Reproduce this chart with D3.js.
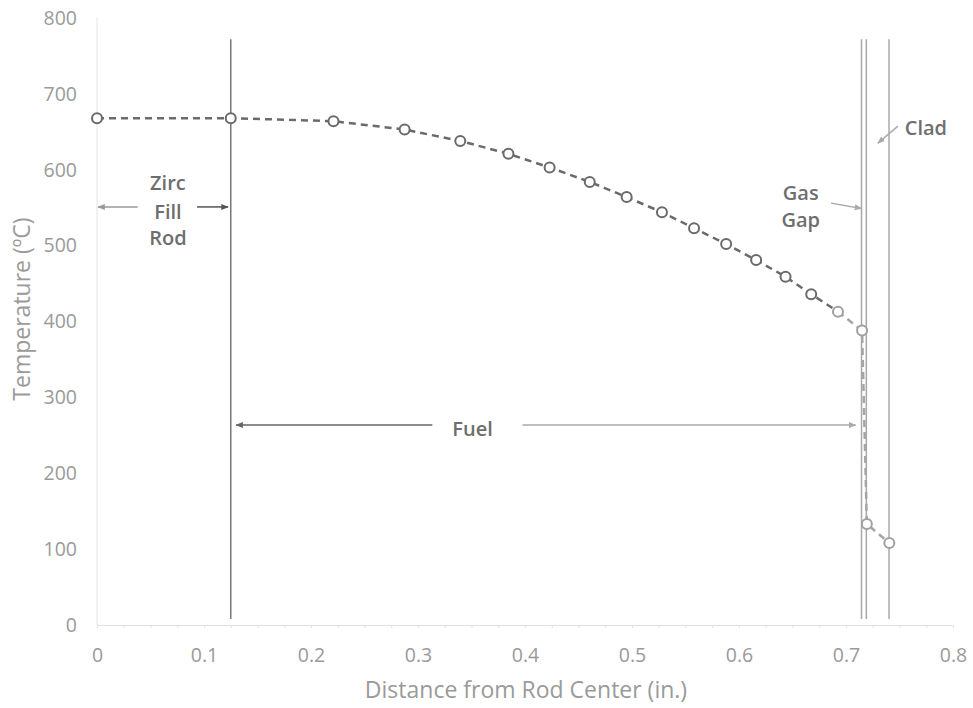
<!DOCTYPE html>
<html>
<head>
<meta charset="utf-8" />
<title>Fuel rod temperature profile</title>
<style>
  body { margin: 0; background: #fff; }
  text { font-family: "Open Sans", "DejaVu Sans", sans-serif; }
</style>
</head>
<body>
<svg id="svg" width="973" height="708"></svg>
<script src="https://cdn.jsdelivr.net/npm/d3@7/dist/d3.min.js"></script>
<script>
// distance from rod center (in.) and temperature (C)
var radius = [0, 0.125, 0.221, 0.2875, 0.3395, 0.3845, 0.423, 0.4605, 0.495, 0.528,
              0.558, 0.588, 0.616, 0.6435, 0.6675, 0.6925, 0.715, 0.7195, 0.7405];
var temp   = [668, 668, 664, 653, 638, 621, 603, 584, 564, 544,
              523, 502, 481, 459, 436, 413, 388, 133, 108];
var lightFrom = 15; // last points look lighter in the scan

var xTicks = [0, 0.1, 0.2, 0.3, 0.4, 0.5, 0.6, 0.7, 0.8];
var yTicks = [0, 100, 200, 300, 400, 500, 600, 700, 800];

// region boundaries: fill rod edge, gas gap (two lines), clad outer
var boundaries = [0.125, 0.7145, 0.719, 0.7402];
var boundaryDark = [true, false, false, false];

// annotation labels in data units
var labels = [
  { t: "Zirc", x: 0.0663, y: 582 },
  { t: "Fill", x: 0.0663, y: 544 },
  { t: "Rod",  x: 0.0663, y: 510 },
  { t: "Fuel", x: 0.351,  y: 258 },
  { t: "Gas",  x: 0.6577, y: 569 },
  { t: "Gap",  x: 0.6577, y: 534 },
  { t: "Clad", x: 0.7747, y: 655 }
];
// arrows: from -> to (head at 'to')
var arrows = [
  { x1: 0.038,  y1: 551,   x2: 0.001,  y2: 551,   c: "#999" },
  { x1: 0.0935, y1: 551,   x2: 0.1225, y2: 551,   c: "#555" },
  { x1: 0.3134, y1: 263.5, x2: 0.130,  y2: 263.5, c: "#666" },
  { x1: 0.3976, y1: 263.5, x2: 0.709,  y2: 263.5, c: "#aaa" },
  { x1: 0.686,  y1: 556,   x2: 0.7145, y2: 549,   c: "#aaa" },
  { x1: 0.7485, y1: 657.5, x2: 0.7298, y2: 635,   c: "#aaa" }
];

var svg = d3.select("#svg");
var x = d3.scaleLinear().domain([0, 0.8]).range([97, 953]);
var y = d3.scaleLinear().domain([0, 800]).range([625, 18]);

var defs = svg.append("defs");
arrows.forEach(function(a, i) {
  defs.append("marker")
    .attr("id", "ah" + i)
    .attr("viewBox", "0 0 10 10")
    .attr("refX", 9).attr("refY", 5)
    .attr("markerWidth", 5).attr("markerHeight", 5)
    .attr("orient", "auto")
    .append("path").attr("d", "M0,1L10,5L0,9Z").attr("fill", a.c);
});

// faint axis lines
svg.append("line")
  .attr("x1", x(0)).attr("x2", x(0)).attr("y1", y(0)).attr("y2", y(800))
  .attr("stroke", "#e4e4e4").attr("stroke-width", 1);
var xAxis = svg.append("g").attr("transform", "translate(0," + y(0) + ")")
  .call(d3.axisBottom(x).tickValues(d3.range(0, 33).map(function(i) { return i * 0.025; }))
    .tickSize(3).tickFormat(""));
xAxis.select(".domain").attr("stroke", "#e2e2e2");
xAxis.selectAll(".tick line").attr("stroke", "#e2e2e2");

// tick labels
var yAx = svg.append("g").attr("transform", "translate(" + x(0) + ",0)")
  .call(d3.axisLeft(y).tickValues(yTicks).tickSize(0).tickPadding(20));
yAx.select(".domain").remove();
yAx.selectAll("text").attr("fill", "#9a9a9a").style("font-size", "19.5px");

var xAx = svg.append("g").attr("transform", "translate(0," + y(0) + ")")
  .call(d3.axisBottom(x).tickValues(xTicks).tickSize(0).tickPadding(23)
    .tickFormat(function(d) { return d === 0 ? "0" : d3.format(".1f")(d); }));
xAx.select(".domain").remove();
xAx.selectAll("text").attr("fill", "#9a9a9a").style("font-size", "19.5px");

// axis titles
svg.append("text")
  .attr("x", (x(0) + x(0.8)) / 2 + 1).attr("y", 698)
  .attr("text-anchor", "middle").attr("fill", "#9a9a9a").style("font-size", "23px")
  .text("Distance from Rod Center (in.)");
svg.append("text")
  .attr("transform", "translate(30," + 309 + ") rotate(-90)")
  .attr("text-anchor", "middle").attr("fill", "#9a9a9a").style("font-size", "23px")
  .text("Temperature (\u00baC)");

// region boundary lines
svg.selectAll(".bnd").data(boundaries).enter().append("line")
  .attr("class", "bnd")
  .attr("x1", function(d) { return x(d); }).attr("x2", function(d) { return x(d); })
  .attr("y1", y(8)).attr("y2", y(772))
  .attr("stroke", function(d, i) { return boundaryDark[i] ? "#777" : "#a8a8a8"; })
  .attr("stroke-width", 1.5);

// profile line
var pts = radius.map(function(r, i) { return { r: r, t: temp[i], i: i }; });
var line = d3.line().x(function(d) { return x(d.r); }).y(function(d) { return y(d.t); });
svg.append("path").datum(pts.slice(0, lightFrom + 1))
  .attr("d", line).attr("fill", "none")
  .attr("stroke", "#6a6a6a").attr("stroke-width", 2.5).attr("stroke-dasharray", "7,5");
svg.append("path").datum(pts.slice(lightFrom))
  .attr("d", line).attr("fill", "none")
  .attr("stroke", "#a5a5a5").attr("stroke-width", 2.5).attr("stroke-dasharray", "7,5");

svg.selectAll(".pt").data(pts).enter().append("circle")
  .attr("class", "pt")
  .attr("cx", function(d) { return x(d.r); }).attr("cy", function(d) { return y(d.t); })
  .attr("r", 5).attr("fill", "#fff")
  .attr("stroke", function(d) { return d.i >= lightFrom ? "#a0a0a0" : "#6a6a6a"; })
  .attr("stroke-width", 2);

// annotations
svg.selectAll(".arr").data(arrows).enter().append("line")
  .attr("class", "arr")
  .attr("x1", function(d) { return x(d.x1); }).attr("y1", function(d) { return y(d.y1); })
  .attr("x2", function(d) { return x(d.x2); }).attr("y2", function(d) { return y(d.y2); })
  .attr("stroke", function(d) { return d.c; }).attr("stroke-width", 1.5)
  .attr("marker-end", function(d, i) { return "url(#ah" + i + ")"; });

svg.selectAll(".lbl").data(labels).enter().append("text")
  .attr("class", "lbl")
  .attr("x", function(d) { return x(d.x); }).attr("y", function(d) { return y(d.y); })
  .attr("dy", "0.35em").attr("text-anchor", "middle")
  .attr("fill", "#6e6e6e").style("font-size", "20px").style("font-weight", "600")
  .text(function(d) { return d.t; });
</script>
</body>
</html>
